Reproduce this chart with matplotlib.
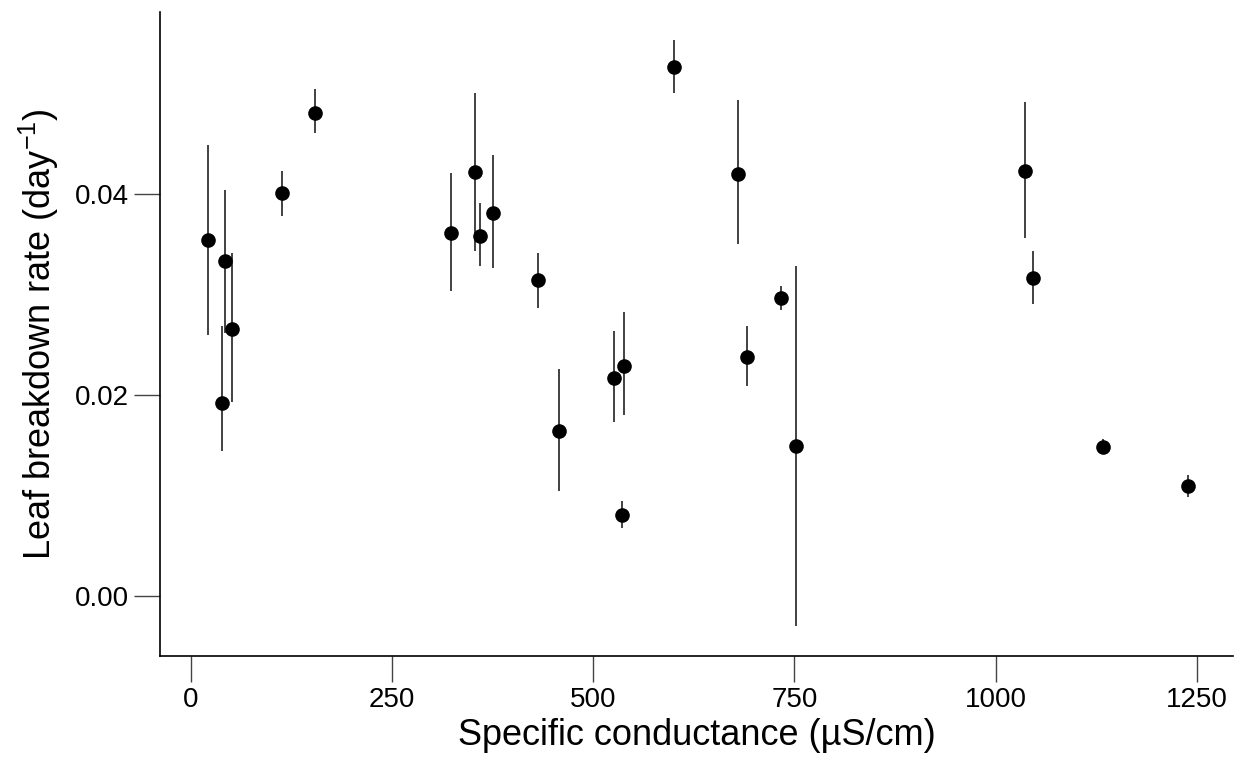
import matplotlib
matplotlib.use('Agg')
import matplotlib.pyplot as plt

# conductance (uS/cm), breakdown rate, lower and upper ends of the error bars
cond = [22, 43, 52, 39, 113, 155, 324, 353, 359, 376, 431, 458, 526, 538, 536,
        600, 680, 691, 734, 752, 1037, 1046, 1134, 1239]
rate = [0.0354, 0.0333, 0.0266, 0.0192, 0.0401, 0.0481, 0.0361, 0.0422, 0.0358,
        0.0381, 0.0314, 0.0164, 0.0217, 0.0229, 0.0080, 0.0526, 0.0420, 0.0238,
        0.0296, 0.0149, 0.0423, 0.0316, 0.0148, 0.0109]
low = [0.0260, 0.0262, 0.0193, 0.0144, 0.0378, 0.0461, 0.0303, 0.0343, 0.0328,
       0.0326, 0.0286, 0.0104, 0.0173, 0.0180, 0.0067, 0.0500, 0.0350, 0.0209,
       0.0284, -0.0030, 0.0356, 0.0290, 0.0141, 0.0098]
high = [0.0449, 0.0404, 0.0341, 0.0268, 0.0423, 0.0504, 0.0421, 0.0500, 0.0391,
        0.0439, 0.0341, 0.0226, 0.0264, 0.0282, 0.0094, 0.0553, 0.0493, 0.0268,
        0.0308, 0.0328, 0.0491, 0.0343, 0.0156, 0.0120]

xticks = [0, 250, 500, 750, 1000, 1250]
yticks = [0.00, 0.02, 0.04]

plt.rcParams['font.family'] = ['Liberation Sans', 'DejaVu Sans']
plt.rcParams['mathtext.fontset'] = 'custom'
plt.rcParams['mathtext.rm'] = 'Liberation Sans'
plt.rcParams['mathtext.it'] = 'Liberation Sans'

fig = plt.figure(figsize=(12.42, 7.57), dpi=100)
ax = fig.add_axes([0.1288, 0.1334, 0.8640, 0.8507])

ax.vlines(cond, low, high, color='#333333', lw=1.3)
ax.plot(cond, rate, 'o', color='black', markersize=9.5, zorder=3)

ax.set_xlim(-38, 1295)
ax.set_ylim(-0.0060, 0.0581)
ax.set_xticks(xticks)
ax.set_xticklabels([str(t) for t in xticks])
ax.set_yticks(yticks)
ax.set_yticklabels(['%.2f' % t for t in yticks])

for s in ['top', 'right']:
    ax.spines[s].set_visible(False)
for s in ['left', 'bottom']:
    ax.spines[s].set_linewidth(1.2)
ax.tick_params(axis='both', direction='out', length=19, width=1, color='#444444',
               labelsize=20)
ax.tick_params(axis='x', pad=3)
ax.tick_params(axis='y', pad=3.5)

ax.set_xlabel('Specific conductance (\u00b5S/cm)', fontsize=26, labelpad=4)
ax.set_ylabel('Leaf breakdown rate (day$^{-1}$)', fontsize=26, labelpad=10)

fig.savefig('out.png', dpi=100)
